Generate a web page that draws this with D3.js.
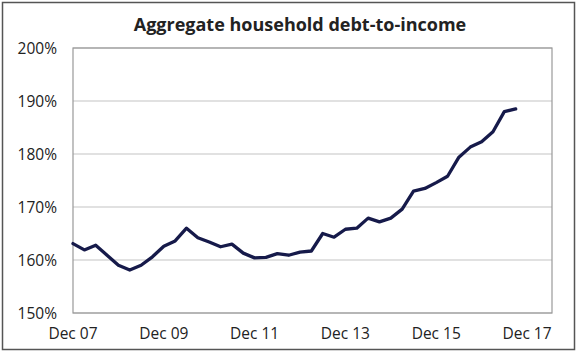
<!DOCTYPE html>
<html>
<head>
<meta charset="utf-8">
<script src="https://cdn.jsdelivr.net/npm/d3@7"></script>
<style>
  body { margin: 0; background: #fff; }
  svg text { font-family: "Open Sans", "Noto Sans", sans-serif; fill: #222; }
</style>
</head>
<body>
<svg id="chart"></svg>
<script>
// quarterly debt-to-income (%), Dec 07 .. Sep 17
const values = [
  163.1, 161.9, 162.8, 160.9, 159.0, 158.1, 159.0, 160.6, 162.6, 163.6,
  166.0, 164.2, 163.4, 162.5, 163.0, 161.3, 160.4, 160.5, 161.2, 160.9,
  161.5, 161.7, 165.0, 164.3, 165.8, 166.0, 167.9, 167.2, 167.9, 169.6,
  173.0, 173.5, 174.6, 175.8, 179.4, 181.3, 182.3, 184.2, 188.0, 188.5
];
const xTickLabels = ["Dec 07", "Dec 09", "Dec 11", "Dec 13", "Dec 15", "Dec 17"];
const yTicks = [150, 160, 170, 180, 190, 200];

const W = 580, H = 352;
const svg = d3.select("#chart").attr("width", W).attr("height", H);

const plot = { left: 73, right: 552, top: 48, bottom: 313 };

// quarter index -> x ; labels every 8 quarters
const x = d3.scaleLinear().domain([0, 42.2]).range([plot.left, plot.right]);
const y = d3.scaleLinear().domain([150, 200]).range([plot.bottom, plot.top]);

// outer frame
svg.append("rect")
  .attr("x", 2.5).attr("y", 2.5)
  .attr("width", 572).attr("height", 347)
  .attr("fill", "none").attr("stroke", "#555").attr("stroke-width", 1.5);

svg.append("text")
  .attr("x", 300).attr("y", 31)
  .attr("text-anchor", "middle")
  .style("font-size", "18px").style("font-weight", "bold")
  .text("Aggregate household debt-to-income");

// gridlines
svg.append("g")
  .selectAll("line")
  .data(yTicks)
  .join("line")
  .attr("x1", plot.left).attr("x2", plot.right)
  .attr("y1", d => y(d)).attr("y2", d => y(d))
  .attr("stroke", "#c4c4c4").attr("stroke-width", 1.2);

// plot border
svg.append("rect")
  .attr("x", plot.left).attr("y", plot.top)
  .attr("width", plot.right - plot.left).attr("height", plot.bottom - plot.top)
  .attr("fill", "none").attr("stroke", "#999").attr("stroke-width", 1.2);

// y labels
svg.append("g")
  .selectAll("text")
  .data(yTicks)
  .join("text")
  .attr("x", 57).attr("y", d => y(d) + 5.5)
  .attr("text-anchor", "end")
  .style("font-size", "15.5px")
  .text(d => d + "%");

// x labels
svg.append("g")
  .selectAll("text")
  .data(xTickLabels)
  .join("text")
  .attr("x", (d, i) => x(i * 8))
  .attr("y", 339)
  .attr("text-anchor", "middle")
  .style("font-size", "15.5px")
  .text(d => d);

const line = d3.line()
  .x((d, i) => x(i))
  .y(d => y(d));

svg.append("path")
  .datum(values)
  .attr("d", line)
  .attr("fill", "none")
  .attr("stroke", "#161a4a")
  .attr("stroke-width", 3.3)
  .attr("stroke-linejoin", "round")
  .attr("stroke-linecap", "round");
</script>
</body>
</html>
